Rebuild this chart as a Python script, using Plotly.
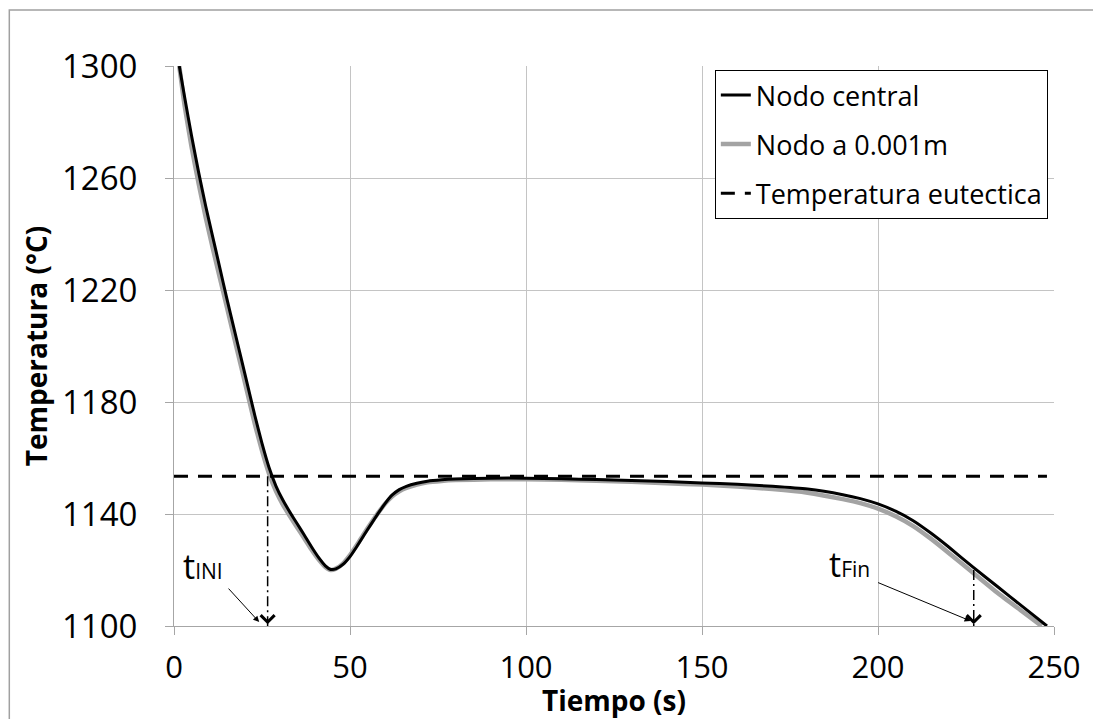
import plotly.graph_objects as go

# ---------------- data ----------------
t_central = [1.5, 3, 5, 7, 9, 11, 13, 15, 17, 19, 21, 23, 25, 27, 29, 31, 33, 35, 37, 39,
             41, 43, 44.5, 46, 48, 50, 52, 54, 56, 58, 60, 62, 64, 66, 69, 72, 76, 80, 90,
             100, 110, 120, 130, 140, 150, 160, 170, 180, 190, 195, 200, 205, 210, 215,
             220, 227, 234, 241, 248]
T_central = [1300, 1289, 1275, 1262, 1250, 1239, 1228, 1217, 1206.5, 1196, 1185.5, 1175,
             1165.2, 1156.6, 1149.9, 1144.8, 1140.5, 1136.5, 1132.5, 1128.4, 1124.6, 1121.5,
             1120.2, 1120.4, 1122, 1124.8, 1128.5, 1132.5, 1136.4, 1140.2, 1143.8, 1146.8,
             1148.7, 1149.9, 1151, 1151.7, 1152.2, 1152.5, 1152.8, 1152.8, 1152.6, 1152.3,
             1152, 1151.6, 1151.1, 1150.6, 1149.9, 1148.9, 1146.9, 1145.5, 1143.6, 1141,
             1137.6, 1133.2, 1128.3, 1121, 1114, 1107, 1100]

t_node = [1.5, 3, 5, 7, 9, 11, 13, 15, 17, 19, 21, 23, 25, 27, 29, 31, 33, 35, 37, 39,
          41, 43, 44.5, 46, 48, 50, 52, 54, 56, 58, 60, 62, 64, 66, 69, 72, 76, 80, 90,
          100, 110, 120, 130, 140, 150, 160, 170, 180, 190, 195, 200, 205, 210, 215,
          220, 227, 234, 241, 246.5]
T_node = [1300, 1286, 1271, 1258, 1246, 1235, 1224.5, 1214, 1203.5, 1193, 1182.5, 1172,
          1162.6, 1154.4, 1148.1, 1143.2, 1139.1, 1135.2, 1131.3, 1127.4, 1123.9, 1121.1,
          1120, 1120.5, 1122.3, 1125.3, 1129, 1133, 1136.8, 1140.4, 1143.7, 1146.3,
          1148.1, 1149.3, 1150.5, 1151.3, 1151.8, 1152.1, 1152.4, 1152.4, 1152.2, 1151.9,
          1151.5, 1151, 1150.5, 1149.8, 1148.9, 1147.6, 1145.3, 1143.9, 1141.9, 1139.2,
          1135.7, 1131.2, 1126.2, 1119, 1111.8, 1105.2, 1100]

T_eutectic = 1153.5
t_eut_span = [0, 248]
t_ini = 26.6
t_fin = 227.2
T_fin_top = 1120
T_bottom = 1100

x_ticks = [0, 50, 100, 150, 200, 250]
y_ticks = [1100, 1140, 1180, 1220, 1260, 1300]

names = ["Nodo central", "Nodo a 0.001m", "Temperatura eutectica"]

FONT = "Open Sans"

fig = go.Figure()

fig.add_trace(go.Scatter(
    x=t_node, y=T_node, mode="lines", name=names[1],
    line=dict(color="#a3a3a3", width=4.5, shape="spline", smoothing=0.5),
    legendgroup="b", legendrank=2))
fig.add_trace(go.Scatter(
    x=t_central, y=T_central, mode="lines", name=names[0],
    line=dict(color="#000000", width=3, shape="spline", smoothing=0.5),
    legendgroup="a", legendrank=1))
fig.add_trace(go.Scatter(
    x=t_eut_span, y=[T_eutectic, T_eutectic], mode="lines", name=names[2],
    line=dict(color="#000000", width=3, dash="14px,10px"),
    legendgroup="c", legendrank=3))

# dash-dot markers for t_INI and t_Fin
fig.add_trace(go.Scatter(
    x=[t_ini, t_ini], y=[T_eutectic, T_bottom], mode="lines", showlegend=False,
    line=dict(color="#000000", width=1.5, dash="10px,4px,2px,4px"), hoverinfo="skip"))
fig.add_trace(go.Scatter(
    x=[t_fin, t_fin], y=[T_fin_top, T_bottom], mode="lines", showlegend=False,
    line=dict(color="#000000", width=1.5, dash="10px,4px,2px,4px"), hoverinfo="skip"))

annotations = []
# open arrow heads at the bottom of the dash-dot lines
for tv in (t_ini, t_fin):
    annotations.append(dict(x=tv, y=T_bottom + 0.6, xref="x", yref="y", text="",
                            showarrow=True, arrowhead=4, arrowsize=1.8, arrowwidth=1.5,
                            arrowcolor="#000000", ax=0, ay=-6))
# slanted pointers
annotations.append(dict(x=t_ini - 2.4, y=T_bottom + 1.4, xref="x", yref="y", text="",
                        showarrow=True, arrowhead=2, arrowsize=1.2, arrowwidth=1,
                        arrowcolor="#000000", ax=-32, ay=-35))
annotations.append(dict(x=t_fin - 0.9, y=T_bottom + 1.8, xref="x", yref="y", text="",
                        showarrow=True, arrowhead=2, arrowsize=1.2, arrowwidth=1,
                        arrowcolor="#000000", ax=-94, ay=-39))
# labels
annotations.append(dict(x=2, y=1112.5, xref="x", yref="y", xanchor="left", yanchor="bottom",
                        text="t<span style='font-size:21px'>INI</span>", showarrow=False,
                        font=dict(family=FONT, size=34, color="#000000")))
annotations.append(dict(x=185.5, y=1113.3, xref="x", yref="y", xanchor="left", yanchor="bottom",
                        text="t<span style='font-size:21px'>Fin</span>", showarrow=False,
                        font=dict(family=FONT, size=34, color="#000000")))

fig.update_layout(
    width=1093, height=719,
    margin=dict(l=174, r=32, t=66, b=92),
    paper_bgcolor="#ffffff", plot_bgcolor="#ffffff",
    font=dict(family=FONT, color="#000000"),
    annotations=annotations,
    showlegend=True,
    legend=dict(
        x=0.993, xanchor="right", y=0.993, yanchor="top",
        bgcolor="#ffffff", bordercolor="#000000", borderwidth=1,
        font=dict(family=FONT, size=27, color="#000000"),
        tracegroupgap=11, traceorder="grouped", itemwidth=30,
    ),
    shapes=[dict(type="rect", xref="paper", yref="paper",
                 x0=(8 - 174) / 887, x1=(1400 - 174) / 887,
                 y0=-(900 - 627) / 561, y1=1 + (66 - 10) / 561,
                 line=dict(color="#a0a0a0", width=1.5), layer="below")],
)

fig.update_xaxes(
    range=[0, 250], tickvals=x_ticks, ticktext=[str(v) for v in x_ticks],
    showgrid=True, gridcolor="#c4c4c4", gridwidth=1,
    showline=True, linecolor="#a6a6a6", linewidth=1,
    ticks="outside", ticklen=8, tickcolor="#a6a6a6",
    tickfont=dict(family=FONT, size=31, color="#000000"),
    ticklabelstandoff=6,
    zeroline=False,
    title=dict(text="Tiempo (s)", standoff=0,
               font=dict(family=FONT, size=28, weight="bold", color="#000000")),
)
fig.update_yaxes(
    range=[1100, 1300], tickvals=y_ticks, ticktext=[str(v) for v in y_ticks],
    showgrid=True, gridcolor="#c4c4c4", gridwidth=1,
    showline=True, linecolor="#a6a6a6", linewidth=1,
    ticks="outside", ticklen=8, tickcolor="#a6a6a6",
    tickfont=dict(family=FONT, size=33, color="#000000"),
    ticklabelstandoff=21,
    zeroline=False,
    title=dict(text="Temperatura (°C)", standoff=6,
               font=dict(family=FONT, size=28, weight="bold", color="#000000")),
)

fig.write_html("out.html")
